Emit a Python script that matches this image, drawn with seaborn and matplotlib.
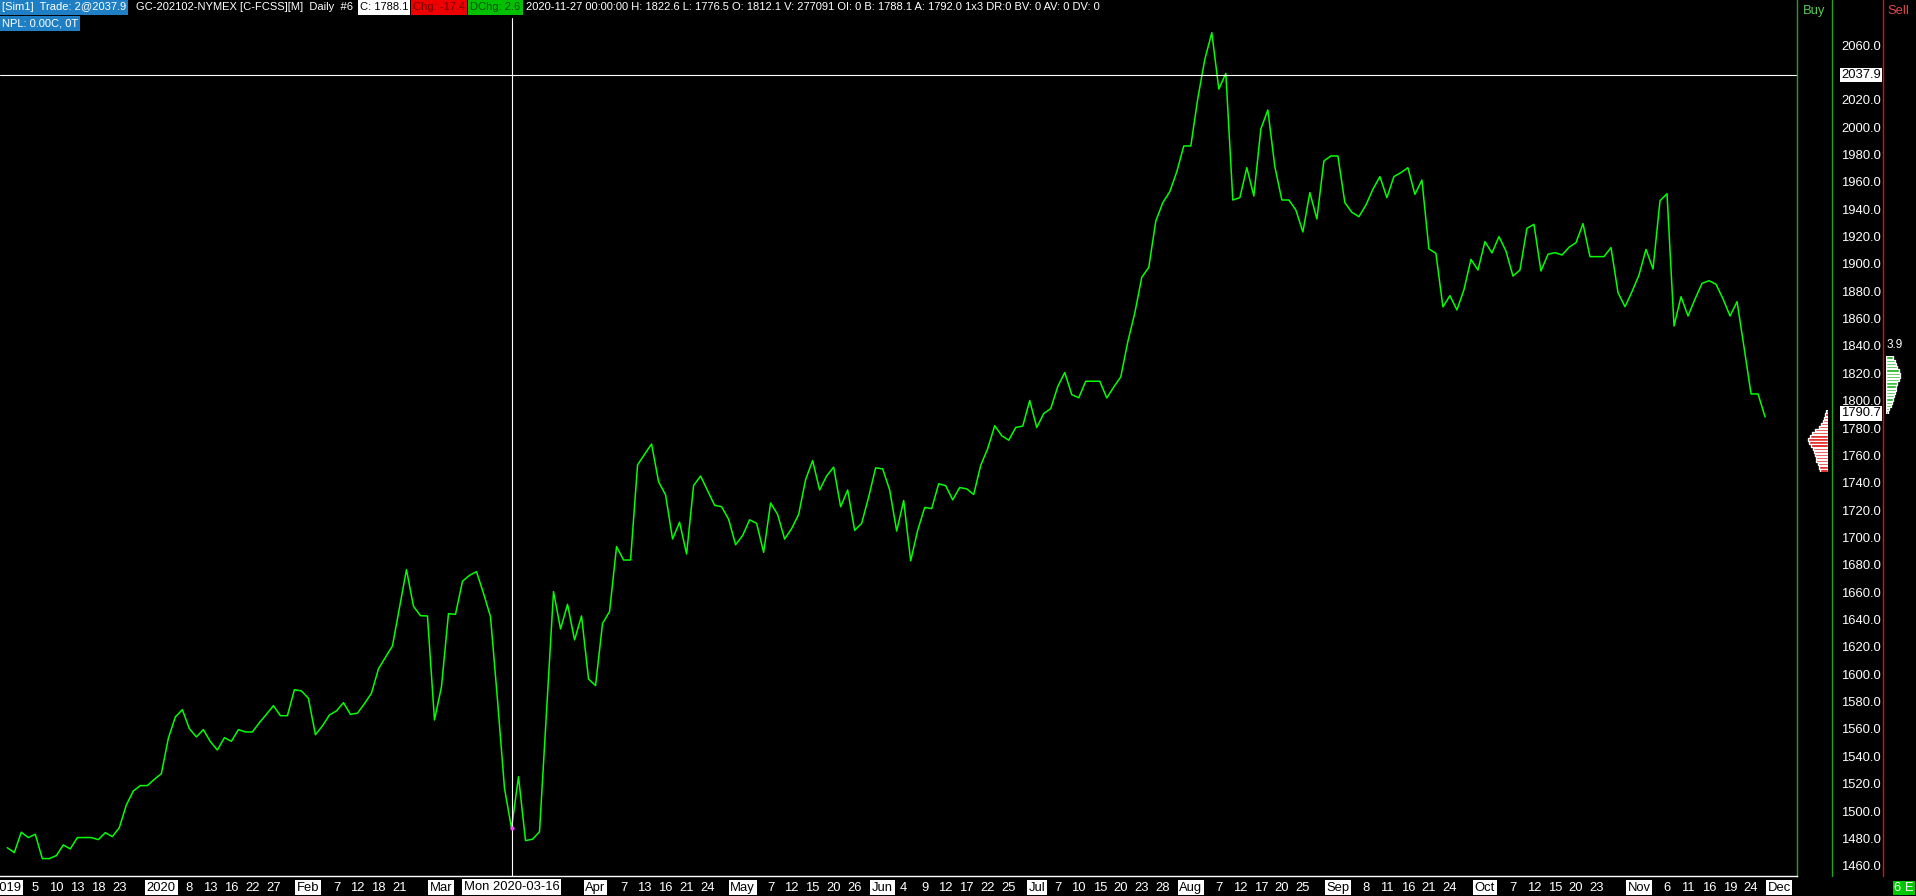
import numpy as np
import pandas as pd
import matplotlib
matplotlib.use('Agg')
import matplotlib.pyplot as plt
import seaborn as sns
from matplotlib.patches import Rectangle
from matplotlib.transforms import blended_transform_factory

# Daily closes, GC continuous, one value per session starting 2019-11-29
close = [
    1473.2, 1469.6, 1484.5, 1480.6, 1483.0, 1465.2, 1465.2, 1467.4, 1475.2, 1472.3,
    1480.6, 1480.6, 1480.6, 1479.1, 1484.2, 1481.3, 1487.9, 1504.4, 1514.7, 1518.6,
    1518.6, 1523.2, 1527.3, 1553.2, 1568.8, 1574.1, 1560.2, 1554.2, 1559.5, 1550.7,
    1544.6, 1553.6, 1551.0, 1559.5, 1557.8, 1557.8, 1564.6, 1570.7, 1577.0, 1569.7,
    1569.7, 1588.7, 1587.8, 1582.4, 1555.8, 1562.2, 1570.2, 1573.2, 1579.2, 1570.7,
    1571.5, 1578.5, 1586.1, 1603.9, 1612.4, 1620.7, 1648.7, 1676.5, 1649.7, 1642.8,
    1642.6, 1566.6, 1590.9, 1644.3, 1643.8, 1668.0, 1672.3, 1675.0, 1659.2, 1642.1,
    1581.2, 1516.6, 1487.4, 1525.1, 1478.4, 1479.4, 1484.9, 1572.7, 1660.4, 1633.1,
    1651.1, 1625.1, 1642.6, 1596.5, 1591.7, 1637.2, 1645.8, 1693.3, 1683.5, 1683.5,
    1753.0, 1760.8, 1768.3, 1740.8, 1731.1, 1698.9, 1711.1, 1687.9, 1737.9, 1744.9,
    1734.2, 1723.5, 1722.5, 1713.3, 1694.7, 1701.4, 1712.9, 1710.3, 1689.1, 1725.2,
    1716.8, 1698.8, 1706.5, 1716.8, 1742.4, 1756.2, 1734.7, 1745.0, 1751.4, 1722.4,
    1734.7, 1705.2, 1710.3, 1729.6, 1750.9, 1750.1, 1734.7, 1704.7, 1727.0, 1682.9,
    1705.2, 1721.9, 1721.1, 1739.3, 1737.8, 1727.5, 1736.5, 1735.5, 1731.4, 1752.7,
    1765.0, 1781.7, 1774.4, 1771.1, 1780.4, 1781.4, 1800.1, 1780.4, 1790.6, 1794.2,
    1810.3, 1820.6, 1804.4, 1802.1, 1814.2, 1814.2, 1814.2, 1802.0, 1810.0, 1817.4,
    1843.0, 1864.0, 1890.2, 1897.5, 1931.3, 1944.7, 1952.8, 1967.4, 1986.2, 1986.2,
    2021.0, 2049.5, 2069.0, 2027.8, 2039.3, 1946.7, 1948.4, 1970.3, 1949.6, 1998.6,
    2012.5, 1971.1, 1946.7, 1946.7, 1939.4, 1923.3, 1952.1, 1932.8, 1975.2, 1978.9,
    1978.9, 1944.7, 1937.7, 1934.5, 1943.0, 1954.5, 1963.8, 1948.4, 1963.8, 1966.7,
    1970.3, 1950.8, 1961.3, 1910.9, 1907.7, 1868.5, 1876.8, 1866.3, 1881.0, 1903.3,
    1895.5, 1916.3, 1908.0, 1919.9, 1909.4, 1891.1, 1895.5, 1926.0, 1928.9, 1894.8,
    1907.0, 1908.2, 1906.5, 1912.1, 1915.5, 1929.4, 1905.3, 1905.3, 1905.3, 1911.9,
    1879.0, 1868.7, 1879.7, 1891.9, 1910.6, 1896.3, 1946.2, 1951.3, 1854.6, 1876.0,
    1861.9, 1874.3, 1885.8, 1887.7, 1885.1, 1874.3, 1861.9, 1872.4, 1839.0, 1804.9,
    1804.9, 1788.1,
]

holidays = ['2019-12-25', '2020-01-01', '2020-01-20', '2020-02-17', '2020-04-10',
            '2020-05-25', '2020-07-03', '2020-09-07', '2020-11-26']

tick_dates = [
    '2019-11-29', '2019-12-05', '2019-12-10', '2019-12-13', '2019-12-18', '2019-12-23',
    '2020-01-02', '2020-01-08', '2020-01-13', '2020-01-16', '2020-01-22', '2020-01-27',
    '2020-02-03', '2020-02-07', '2020-02-12', '2020-02-18', '2020-02-21',
    '2020-03-02',
    '2020-04-01', '2020-04-07', '2020-04-13', '2020-04-16', '2020-04-21', '2020-04-24',
    '2020-05-01', '2020-05-07', '2020-05-12', '2020-05-15', '2020-05-20', '2020-05-26',
    '2020-06-01', '2020-06-04', '2020-06-09', '2020-06-12', '2020-06-17', '2020-06-22', '2020-06-25',
    '2020-07-01', '2020-07-07', '2020-07-10', '2020-07-15', '2020-07-20', '2020-07-23', '2020-07-28',
    '2020-08-03', '2020-08-07', '2020-08-12', '2020-08-17', '2020-08-20', '2020-08-25',
    '2020-09-01', '2020-09-08', '2020-09-11', '2020-09-16', '2020-09-21', '2020-09-24',
    '2020-10-01', '2020-10-07', '2020-10-12', '2020-10-15', '2020-10-20', '2020-10-23',
    '2020-11-02', '2020-11-06', '2020-11-11', '2020-11-16', '2020-11-19', '2020-11-24',
    '2020-12-01',
]
tick_labels = [
    '2019', '5', '10', '13', '18', '23',
    '2020', '8', '13', '16', '22', '27',
    'Feb', '7', '12', '18', '21',
    'Mar',
    'Apr', '7', '13', '16', '21', '24',
    'May', '7', '12', '15', '20', '26',
    'Jun', '4', '9', '12', '17', '22', '25',
    'Jul', '7', '10', '15', '20', '23', '28',
    'Aug', '7', '12', '17', '20', '25',
    'Sep', '8', '11', '16', '21', '24',
    'Oct', '7', '12', '15', '20', '23',
    'Nov', '6', '11', '16', '19', '24',
    'Dec',
]
price_ticks = np.arange(1460, 2061, 20)

cross_date = '2020-03-16'
cross_price = 2037.9
last_price = 1790.7

# small depth columns next to the price scale
bid_depth = [2, 3, 4, 5, 7, 9, 12, 15, 17, 19, 18, 16, 14, 13, 12, 11, 11, 10, 9, 8]
ask_depth = [6, 8, 9, 10, 11, 12, 12, 11, 10, 9, 9, 8, 7, 6, 5, 4, 3, 2]

sessions = pd.bdate_range('2019-11-29', '2020-12-04')
sessions = sessions[~sessions.isin(pd.to_datetime(holidays))]
bar_of = {d: i for i, d in enumerate(sessions)}
df = pd.DataFrame({'bar': np.arange(len(close)), 'date': sessions[:len(close)], 'close': close})

sns.set_style('dark')
plt.rcParams['font.family'] = ['Liberation Sans', 'DejaVu Sans']
plt.rcParams['font.size'] = 9.4

W, H = 1916, 896
fig = plt.figure(figsize=(W / 100, H / 100), dpi=100, facecolor='black')


def fx(px):
    return px / W


def fy(py):
    return 1 - py / H


ax = fig.add_axes([0, fy(876), fx(1797), 876 / H])
ax.set_facecolor('black')
sns.lineplot(data=df, x='bar', y='close', color='#00ff00', linewidth=1.1, ax=ax)
ax.set_xlim(-1.04, 255.56)
ax.set_ylim(1452.5, 2092.9)
ax.set_xlabel('')
ax.set_ylabel('')
ax.grid(False)

# crosshair
cross_bar = bar_of[pd.Timestamp(cross_date)]
ax.axvline(cross_bar, color='white', lw=0.8, ymax=1 - 18 / 876)
ax.axhline(cross_price, color='white', lw=0.8)
ax.plot([cross_bar], [df.loc[cross_bar, 'close']], marker='o', ms=2, color='#ff40ff', zorder=5)

for side in ['top', 'left']:
    ax.spines[side].set_visible(False)
ax.spines['bottom'].set_color('white')
ax.spines['bottom'].set_linewidth(1)
ax.spines['right'].set_color('#1fa31f')
ax.spines['right'].set_linewidth(1)

# x axis: session ticks
ax.set_xticks([bar_of[pd.Timestamp(d)] for d in tick_dates])
ax.set_xticklabels(tick_labels)
ax.tick_params(axis='x', colors='white', length=3, width=0.8, pad=1, labelsize=9.4)
months = {'2019', '2020', 'Jan', 'Feb', 'Mar', 'Apr', 'May', 'Jun', 'Jul', 'Aug',
          'Sep', 'Oct', 'Nov', 'Dec'}
for lbl in ax.get_xticklabels():
    if lbl.get_text() in months:
        lbl.set_color('black')
        lbl.set_bbox(dict(facecolor='white', edgecolor='none', pad=1.2))

trans = blended_transform_factory(ax.transData, ax.transAxes)
ax.text(cross_bar, -11 / 876, 'Mon ' + cross_date, transform=trans, ha='center', va='center',
        color='black', fontsize=9.4, bbox=dict(facecolor='white', edgecolor='none', pad=1.5),
        clip_on=False, zorder=6)

# y axis: price scale on the right
ax.yaxis.tick_right()
ax.set_yticks(price_ticks)
ax.set_yticklabels([f'{v:.1f}' for v in price_ticks])
ax.tick_params(axis='y', colors='white', length=0, pad=32, labelsize=9.4)
ytrans = blended_transform_factory(ax.transAxes, ax.transData)
for price in [cross_price, last_price]:
    ax.text(1841 / 1797, price, f'{price:.1f}', transform=ytrans, ha='left', va='center',
            color='black', fontsize=9.4, clip_on=False, zorder=6,
            bbox=dict(facecolor='white', edgecolor='none', pad=0.8))

# side columns
fig.add_artist(plt.Line2D([fx(1832), fx(1832)], [fy(876), 1], color='#1fa31f', lw=1))
fig.add_artist(plt.Line2D([fx(1883), fx(1883)], [fy(876), 1], color='#e01010', lw=1))
fig.text(fx(1814), fy(11), 'Buy', color='#55cc55', ha='center', va='center', fontsize=9.4)
fig.text(fx(1898), fy(11), 'Sell', color='#e04848', ha='center', va='center', fontsize=9.4)
fig.text(fx(1895), fy(345), '3.9', color='white', ha='center', va='center', fontsize=8.5)

ax_bid = fig.add_axes([fx(1806), fy(472), 22 / W, 62 / H])
ax_bid.barh(np.arange(len(bid_depth)), bid_depth, height=0.75, color='#e00000')
ax_bid.set_xlim(21, 0)
ax_bid.set_ylim(len(bid_depth) - 0.5, -0.5)
ax_bid.axis('off')

ax_ask = fig.add_axes([fx(1886), fy(414), 16 / W, 58 / H])
ax_ask.barh(np.arange(len(ask_depth)), ask_depth, height=0.75, color='#10b010')
ax_ask.set_xlim(0, 14)
ax_ask.set_ylim(len(ask_depth) - 0.5, -0.5)
ax_ask.axis('off')

fig.add_artist(Rectangle((fx(1893), fy(895)), 22 / W, 14 / H, facecolor='#00c800',
                         edgecolor='none', transform=fig.transFigure))
fig.text(fx(1904), fy(888), '6 E', color='white', ha='center', va='center', fontsize=9.4)

# header strip: segments laid out left to right, boxes sized to their text
header_rows = [
    [(0, '#1f7fc4', 'white', '[Sim1]  Trade: 2@2037.9'),
     (134, None, 'white', 'GC-202102-NYMEX [C-FCSS][M]  Daily  #6'),
     (358, 'white', 'black', 'C: 1788.1'),
     (407, '#ee0000', '#7a0000', 'Chg: -17.4'),
     (465, '#00c000', '#004d00', 'DChg: 2.6'),
     (518, None, 'white',
      '2020-11-27 00:00:00 H: 1822.6 L: 1776.5 O: 1812.1 V: 277091 OI: 0 B: 1788.1 '
      'A: 1792.0 1x3 DR:0 BV: 0 AV: 0 DV: 0')],
    [(0, '#1f7fc4', 'white', 'NPL: 0.00C, 0T')],
]
renderer = fig.canvas.get_renderer()
for row, segs in enumerate(header_rows):
    y0 = row * 16
    x_end = 0
    for x0, bg, fg, txt in segs:
        x0 = max(x0, x_end)
        t = fig.text(fx(x0 + 2), fy(y0 + 7.5), txt, color=fg, ha='left', va='center',
                     fontsize=8.0, zorder=3)
        width = t.get_window_extent(renderer).width + 4
        if bg is not None:
            fig.add_artist(Rectangle((fx(x0), fy(y0 + 15)), width / W, 15 / H, facecolor=bg,
                                     edgecolor='none', transform=fig.transFigure, zorder=2))
        x_end = x0 + width + 1

fig.savefig('out.png', dpi=100, facecolor='black')
